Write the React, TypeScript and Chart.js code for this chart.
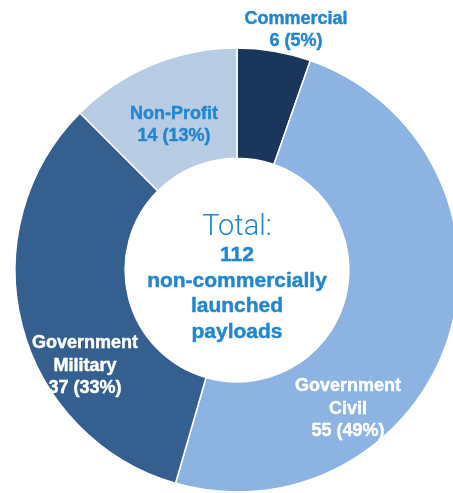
import React, { useEffect, useRef } from "react";
import { Chart, registerables } from "chart.js";

Chart.register(...registerables);

const categories = ["Commercial", "Government Civil", "Government Military", "Non-Profit"];
const labelLines = [["Commercial"], ["Government", "Civil"], ["Government", "Military"], ["Non-Profit"]];
const values = [6, 55, 37, 14];
const colors = ["#1b365d", "#8db3e2", "#355f8f", "#b8cce4"];
const labelColors = ["#2287cf", "#ffffff", "#ffffff", "#2287cf"];
const centerTitle = "Total:";
const centerLines = ["non-commercially", "launched", "payloads"];

const BLUE = "#2287cf";

function boldText(ctx: CanvasRenderingContext2D, t: string, x: number, y: number) {
  ctx.fillText(t, x, y);
  ctx.strokeText(t, x, y);
}

const labelPlugin = {
  id: "sliceLabels",
  afterDraw(chart: any, _args: any, opts: any) {
    const meta = chart.getDatasetMeta(0);
    const arc = meta.data[0];
    if (!arc) return;
    const cx = arc.x;
    const cy = arc.y;
    const ctx = chart.ctx as CanvasRenderingContext2D;
    const data = chart.data.datasets[0].data as number[];
    const total = data.reduce((a: number, b: number) => a + b, 0);
    ctx.save();
    ctx.textAlign = "center";
    ctx.textBaseline = "alphabetic";
    ctx.lineWidth = 0.45;
    ctx.lineJoin = "round";
    data.forEach((v: number, i: number) => {
      const off = opts.offsets[i];
      const lines = [...labelLines[i], `${v} (${Math.round((v / total) * 100)}%)`];
      ctx.fillStyle = labelColors[i];
      ctx.strokeStyle = labelColors[i];
      ctx.font = 'bold 18px "Liberation Sans", Arial, sans-serif';
      lines.forEach((t, j) => {
        boldText(ctx, t, cx + off.dx, cy + off.dy + j * off.lh);
      });
    });
    // center text
    ctx.fillStyle = BLUE;
    ctx.strokeStyle = BLUE;
    ctx.font = '300 29px Roboto, "Liberation Sans", sans-serif';
    ctx.fillText(centerTitle, cx, cy - 35);
    ctx.font = 'bold 21px "Liberation Sans", Arial, sans-serif';
    const cl = [String(total), ...centerLines];
    cl.forEach((t, j) => {
      boldText(ctx, t, cx, cy - 9 + j * 25.5);
    });
    ctx.restore();
  },
};

export default function App() {
  const ref = useRef<HTMLCanvasElement | null>(null);
  useEffect(() => {
    if (!ref.current) return;
    const chart = new Chart(ref.current, {
      type: "doughnut",
      data: {
        labels: categories,
        datasets: [
          {
            data: values,
            backgroundColor: colors,
            borderColor: "#ffffff",
            borderWidth: 1.5,
          },
        ],
      },
      options: {
        animation: false,
        responsive: true,
        maintainAspectRatio: false,
        radius: 222,
        cutout: 112,
        rotation: 0,
        layout: { padding: { left: 0, right: 6, top: 47, bottom: 0 } },
        plugins: {
          legend: { display: false },
          tooltip: { enabled: false },
          sliceLabels: {
            offsets: [
              { dx: 59, dy: -246, lh: 22 },
              { dx: 111, dy: 121, lh: 22.5 },
              { dx: -152, dy: 78, lh: 22.5 },
              { dx: -63, dy: -151, lh: 22 },
            ],
          },
        } as any,
      },
      plugins: [labelPlugin],
    });
    return () => chart.destroy();
  }, []);
  return (
    <div style={{ position: "absolute", left: 0, top: 0, width: 453, height: 493, overflow: "hidden", background: "#fff" }}>
      <div style={{ position: "relative", width: 480, height: 493 }}>
        <canvas ref={ref} />
      </div>
    </div>
  );
}
